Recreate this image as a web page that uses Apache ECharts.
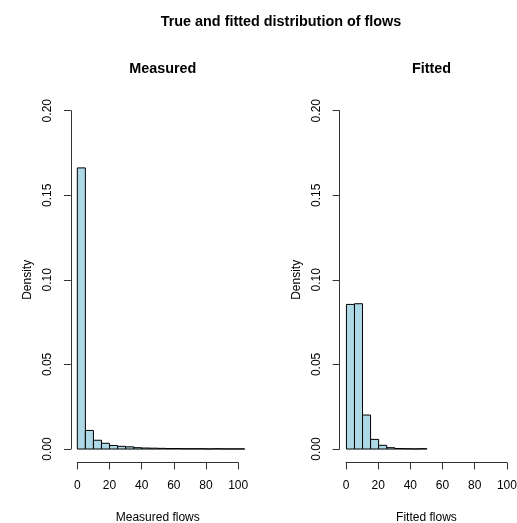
<!DOCTYPE html>
<html>
<head>
<meta charset="utf-8">
<script src="https://cdn.jsdelivr.net/npm/echarts@6/dist/echarts.min.js"></script>
<style>
html,body{margin:0;padding:0;background:#fff;}
#chart{width:517px;height:523px;}
</style>
</head>
<body>
<div id="chart"></div>
<script>
// ---- data ----
const binEdges = [0, 5, 10, 15, 20, 25, 30, 35, 40, 45, 50, 55, 60, 65, 70, 75, 80, 85, 90, 95, 100, 105];
const measuredDensity = [0.1662, 0.0110, 0.0052, 0.0034, 0.0021, 0.0016, 0.0013, 0.0008, 0.0006, 0.0005,
                         0.0004, 0.0003, 0.0003, 0.0002, 0.0002, 0.0002, 0.0001, 0.0002, 0.0001, 0.0001, 0.0001];
const fittedDensity = [0.0855, 0.0859, 0.0201, 0.0057, 0.0022, 0.0008, 0.0003, 0.0002, 0.0001, 0.0002];
const xTicks = [0, 20, 40, 60, 80, 100];
const yTicks = [0, 0.05, 0.10, 0.15, 0.20];
const mainTitle = 'True and fitted distribution of flows';
const panelTitles = ['Measured', 'Fitted'];
const xNames = ['Measured flows', 'Fitted flows'];
const yName = 'Density';

// ---- build ----
const FONT = '"Liberation Sans", Arial, Helvetica, sans-serif';
function toBins(dens) {
  return dens.map((d, i) => [binEdges[i], binEdges[i + 1], d]);
}
const xMin = xTicks[0], xMax = xTicks[xTicks.length - 1], xInt = xTicks[1] - xTicks[0];
const yMin = yTicks[0], yMax = yTicks[yTicks.length - 1], yInt = yTicks[1] - yTicks[0];
const xPad = (xMax - xMin) * 0.04, yPad = (yMax - yMin) * 0.04;

// layout (pixels)
const panels = [
  { axisLeft: 77.3, dataLeft: 70.9, titleX: 157.8 },
  { axisLeft: 346.0, dataLeft: 340.0, titleX: 426.5 }
];
const axisW = 160.9, axisTop = 110.7, axisH = 338.3;
const dataW = axisW * (1 + 0.08), dataTop = 97.2, dataH = axisH * 1.08;

function renderBars(params, api) {
  const x0 = api.value(0), x1 = api.value(1), y = api.value(2);
  const p0 = api.coord([x0, 0]);
  const p1 = api.coord([x1, y]);
  const shape = echarts.graphic.clipRectByRect({
    x: p0[0], y: p1[1], width: p1[0] - p0[0], height: p0[1] - p1[1]
  }, params.coordSys);
  if (!shape) return;
  return { type: 'rect', shape: shape, style: { fill: '#ADD8E6', stroke: '#000', lineWidth: 1 } };
}

const grids = [], xAxes = [], yAxes = [], series = [];
panels.forEach((p, k) => {
  // data grid (extended range like R's 4%)
  grids.push({ left: p.dataLeft, top: dataTop, width: dataW, height: dataH,
               containLabel: false, outerBoundsMode: 'none' });
  // axis grid (tick range)
  grids.push({ left: p.axisLeft, top: axisTop, width: axisW, height: axisH,
               containLabel: false, outerBoundsMode: 'none' });
  const gd = 2 * k, ga = 2 * k + 1;
  xAxes.push({ gridIndex: gd, type: 'value', min: xMin - xPad, max: xMax + xPad, show: false });
  yAxes.push({ gridIndex: gd, type: 'value', min: yMin - yPad, max: yMax + yPad, show: false });
  xAxes.push({
    gridIndex: ga, type: 'value', min: xMin, max: xMax, interval: xInt, position: 'bottom',
    offset: 13.5,
    axisLine: { show: true, onZero: false, lineStyle: { color: '#333', width: 1 } },
    axisTick: { show: true, length: 7, lineStyle: { color: '#333', width: 1 } },
    axisLabel: { show: true, margin: 17, fontSize: 12, color: '#000', fontFamily: FONT },
    splitLine: { show: false },
    name: xNames[k], nameLocation: 'middle', nameGap: 49, nameMoveOverlap: false,
    nameTextStyle: { fontSize: 12, color: '#000', fontFamily: FONT }
  });
  yAxes.push({
    gridIndex: ga, type: 'value', min: yMin, max: yMax, interval: yInt, position: 'left',
    offset: 6.4,
    axisLine: { show: true, onZero: false, lineStyle: { color: '#333', width: 1 } },
    axisTick: { show: true, length: 7, lineStyle: { color: '#333', width: 1 } },
    axisLabel: { show: true, rotate: 90, margin: 17, fontSize: 12, color: '#000', fontFamily: FONT,
                 formatter: v => v.toFixed(2) },
    splitLine: { show: false },
    name: yName, nameLocation: 'middle', nameGap: 37, nameRotate: 90, nameMoveOverlap: false,
    nameTextStyle: { fontSize: 12, color: '#000', fontFamily: FONT }
  });
  series.push({
    type: 'custom', xAxisIndex: gd, yAxisIndex: gd, renderItem: renderBars,
    encode: { x: [0, 1], y: 2 },
    data: toBins(k === 0 ? measuredDensity : fittedDensity),
    silent: true, animation: false
  });
});

const titles = [
  { text: mainTitle, left: 276, top: 10, textAlign: 'center',
    textStyle: { fontSize: 14.4, fontWeight: 'bold', color: '#000', fontFamily: FONT } },
  { text: panelTitles[0], left: panels[0].titleX, top: 57, textAlign: 'center',
    textStyle: { fontSize: 14.4, fontWeight: 'bold', color: '#000', fontFamily: FONT } },
  { text: panelTitles[1], left: panels[1].titleX, top: 57, textAlign: 'center',
    textStyle: { fontSize: 14.4, fontWeight: 'bold', color: '#000', fontFamily: FONT } }
];

const chart = echarts.init(document.getElementById('chart'), null, { renderer: 'canvas' });
chart.setOption({
  animation: false,
  backgroundColor: '#fff',
  title: titles,
  grid: grids,
  xAxis: xAxes,
  yAxis: yAxes,
  series: series
});
</script>
</body>
</html>
